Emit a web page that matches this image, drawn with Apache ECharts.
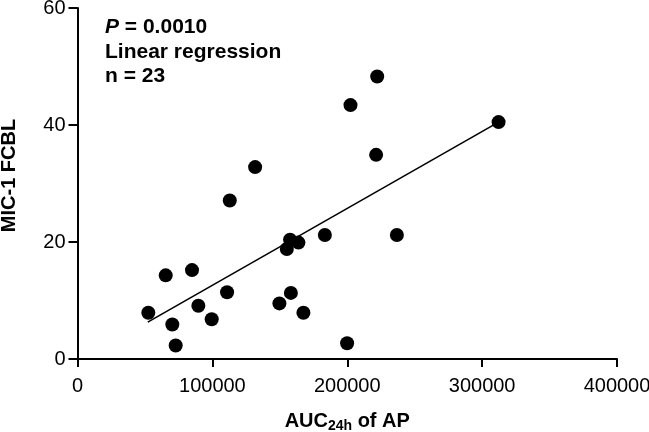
<!DOCTYPE html>
<html>
<head>
<meta charset="utf-8">
<script src="https://cdn.jsdelivr.net/npm/echarts@6/dist/echarts.min.js"></script>
<style>html,body{margin:0;padding:0;background:#fff;}#c{width:649px;height:432px;}</style>
</head>
<body>
<div id="c"></div>
<script>
var aucX = [52500, 65400, 70300, 72800, 84900, 89600, 99500, 110900, 112900, 131700, 149700, 155200, 157600, 158200, 163800, 167500, 183400, 236800, 199900, 222200, 202400, 221400, 312200];
var micY = [7.9, 14.3, 5.9, 2.3, 15.2, 9.1, 6.8, 11.4, 27.1, 32.8, 9.5, 18.8, 20.4, 11.3, 19.9, 7.9, 21.2, 21.2, 2.7, 48.3, 43.4, 34.9, 40.5];
var fitX = [52100, 312200];
var fitY = [6.3, 40.5];
var xTicks = [0, 100000, 200000, 300000, 400000];
var yTicks = [0, 20, 40, 60];

var pts = aucX.map(function (x, i) { return [x, micY[i]]; });
var line = fitX.map(function (x, i) { return [x, fitY[i]]; });
var font = '"Liberation Sans", Arial, sans-serif';

var chart = echarts.init(document.getElementById('c'));
chart.setOption({
  animation: false,
  backgroundColor: '#fff',
  grid: { left: 77.5, right: 32, top: 8, bottom: 73, containLabel: false, outerBoundsMode: 'none' },
  xAxis: {
    type: 'value', min: xTicks[0], max: xTicks[xTicks.length - 1], interval: 100000,
    axisLine: { show: true, onZero: false, lineStyle: { color: '#000', width: 2 } },
    axisTick: { show: true, length: 8, lineStyle: { color: '#000', width: 2 } },
    splitLine: { show: false },
    axisLabel: { color: '#000', fontSize: 20, fontFamily: font, margin: 17, formatter: function (v) { return String(v); } },
    name: '{b|AUC}{s|24h}{b| of AP}',
    nameLocation: 'middle', nameGap: 50,
    nameTextStyle: {
      rich: {
        b: { fontSize: 20, fontWeight: 'bold', fontFamily: font, color: '#000' },
        s: { fontSize: 14, fontWeight: 'bold', fontFamily: font, color: '#000', verticalAlign: 'bottom', padding: [10, 0, 0, 0] }
      }
    }
  },
  yAxis: {
    type: 'value', min: yTicks[0], max: yTicks[yTicks.length - 1], interval: 20,
    axisLine: { show: true, onZero: false, lineStyle: { color: '#000', width: 2 } },
    axisTick: { show: true, length: 9, lineStyle: { color: '#000', width: 2 } },
    splitLine: { show: false },
    axisLabel: { color: '#000', fontSize: 20, fontFamily: font, margin: 12, formatter: function (v) { return String(v); } }
  },
  graphic: [
    { type: 'text', x: 9, y: 175.5, rotation: Math.PI / 2,
      style: { text: 'MIC-1 FCBL', font: 'bold 20px ' + font, fill: '#000', align: 'center', verticalAlign: 'middle' } },
    { type: 'text', x: 105, y: 17,
      style: { rich: { i: { fontStyle: 'italic', fontWeight: 'bold', fontSize: 21, fontFamily: font, fill: '#000' }, b: { fontWeight: 'bold', fontSize: 21, fontFamily: font, fill: '#000' } },
        text: '{i|P}{b| = 0.0010}' } },
    { type: 'text', x: 105, y: 41.5,
      style: { text: 'Linear regression', font: 'bold 21px ' + font, fill: '#000' } },
    { type: 'text', x: 105, y: 66,
      style: { text: 'n = 23', font: 'bold 21px ' + font, fill: '#000' } }
  ],
  series: [
    { type: 'line', data: line, symbol: 'none', lineStyle: { color: '#000', width: 1.6 }, z: 2 },
    { type: 'scatter', data: pts, symbol: 'circle', symbolSize: 14, itemStyle: { color: '#000', opacity: 1 }, z: 3 }
  ]
});
</script>
</body>
</html>
